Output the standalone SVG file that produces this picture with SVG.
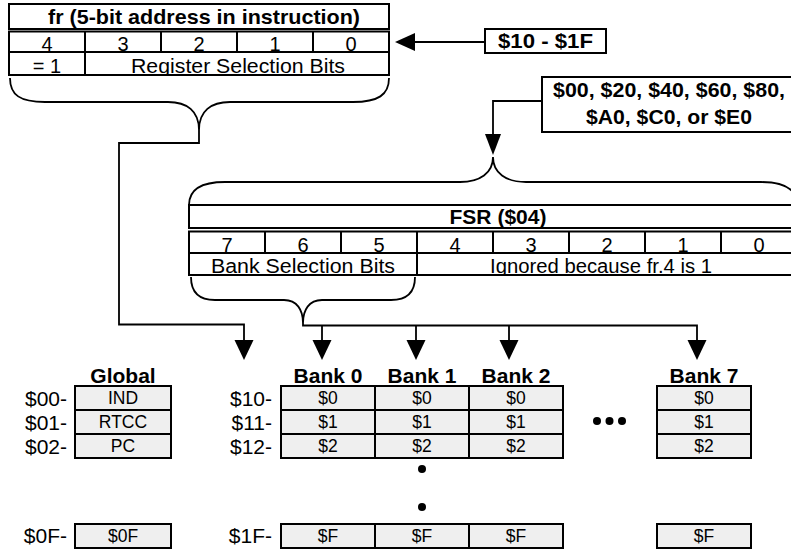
<svg xmlns="http://www.w3.org/2000/svg" width="791" height="549" viewBox="0 0 791 549">
<style>
text{font-family:"Liberation Sans",Arial,Helvetica,sans-serif;fill:#000}
.b{font-weight:bold;font-size:21px;text-anchor:middle}
.r{font-size:20px;text-anchor:middle}
.c{font-size:17.5px;text-anchor:middle}
.l{font-size:21px;text-anchor:end}
.tb{fill:#fff;stroke:#000;stroke-width:2}
.cell{fill:#efefef;stroke:#000;stroke-width:2}
.ln{fill:none;stroke:#000;stroke-width:2}
.br{fill:none;stroke:#000;stroke-width:1.8}
.cn{fill:none;stroke:#000;stroke-width:1.8}
.ah{fill:#000}
</style>
<defs>
<clipPath id="clipFr"><rect x="9" y="52" width="380" height="23"/></clipPath>
<clipPath id="clipFsr"><rect x="189" y="253" width="608" height="22"/></clipPath>
</defs>

<g id="fr-register">
<rect class="tb" x="9" y="4" width="380" height="25"/>
<text class="b" x="204" y="24" textLength="312" lengthAdjust="spacingAndGlyphs">fr (5-bit address in instruction)</text>
<rect class="tb" x="9" y="31.5" width="380" height="43.5"/>
<path class="ln" d="M9,52H389M85,31.5V75M161,31.5V52M237,31.5V52M313,31.5V52"/>
<text class="r" x="47" y="51">4</text>
<text class="r" x="123" y="51">3</text>
<text class="r" x="199" y="51">2</text>
<text class="r" x="275" y="51">1</text>
<text class="r" x="351" y="51">0</text>
<g clip-path="url(#clipFr)">
<text class="r" x="47" y="73">= 1</text>
<text class="r" x="238" y="73" textLength="214" lengthAdjust="spacingAndGlyphs">Register Selection Bits</text>
</g>
<path class="br" d="M10,78C10,95 20,102 45,102L168,102C187,102 199,111 199,130C199,111 211,102 230,102L353,102C378,102 389,95 389,78"/>
</g>

<g id="range-10-1F">
<rect class="tb" x="485" y="29" width="121" height="24"/>
<text class="b" x="545.5" y="48" textLength="95" lengthAdjust="spacingAndGlyphs">$10 - $1F</text>
</g>

<g id="bank-values">
<rect class="tb" x="542" y="77" width="255" height="55"/>
<text class="b" x="669" y="97" textLength="232" lengthAdjust="spacingAndGlyphs">$00, $20, $40, $60, $80,</text>
<text class="b" x="669" y="124" textLength="166" lengthAdjust="spacingAndGlyphs">$A0, $C0, or $E0</text>
</g>

<g id="fsr-register">
<path class="br" d="M189,205C189,190 200,182 225,182L460,182C480,182 493,173 493,157C493,173 506,182 526,182L761,182C786,182 797,190 797,205"/>
<rect class="tb" x="189" y="205" width="608" height="23"/>
<text class="b" x="498" y="224" textLength="97" lengthAdjust="spacingAndGlyphs">FSR ($04)</text>
<rect class="tb" x="189" y="231.5" width="608" height="43.5"/>
<path class="ln" d="M189,253H797M265,231.5V253M341,231.5V253M417,231.5V275M493,231.5V253M569,231.5V253M645,231.5V253M721,231.5V253"/>
<text class="r" x="227" y="252">7</text>
<text class="r" x="303" y="252">6</text>
<text class="r" x="379" y="252">5</text>
<text class="r" x="455" y="252">4</text>
<text class="r" x="531" y="252">3</text>
<text class="r" x="607" y="252">2</text>
<text class="r" x="683" y="252">1</text>
<text class="r" x="759" y="252">0</text>
<g clip-path="url(#clipFsr)">
<text class="r" x="303" y="273" textLength="184" lengthAdjust="spacingAndGlyphs">Bank Selection Bits</text>
<text class="r" x="601" y="273" textLength="222" lengthAdjust="spacingAndGlyphs">Ignored because fr.4 is 1</text>
</g>
<path class="br" d="M191,277C191,292 198,300 215,300L284,300C297,300 303,310 303,323C303,310 309,300 322,300L391,300C408,300 415,292 415,277"/>
</g>

<g id="connectors">
<path class="cn" d="M199,130V143H119V324.5H244V341"/>
<path class="cn" d="M303,323V325.5H697V341M322,325.5V341M416,325.5V341M509,325.5V341"/>
<path class="cn" d="M485,42H414"/>
<path class="cn" d="M542,101H493V135"/>
<polygon class="ah" points="415,33 415,51 395,42"/>
<polygon class="ah" points="485,134 501,134 493,155"/>
<polygon class="ah" points="234.5,340 253.5,340 244,360"/>
<polygon class="ah" points="312.5,340 331.5,340 322,360"/>
<polygon class="ah" points="406.5,340 425.5,340 416,360"/>
<polygon class="ah" points="499.5,340 518.5,340 509,360"/>
<polygon class="ah" points="687.5,340 706.5,340 697,360"/>
</g>

<g id="global">
<text class="b" x="123" y="383">Global</text>
<rect class="cell" x="75" y="386" width="96" height="24"/>
<rect class="cell" x="75" y="410" width="96" height="24"/>
<rect class="cell" x="75" y="434" width="96" height="24"/>
<rect class="cell" x="75" y="524" width="96" height="24"/>
<text class="c" x="123" y="404">IND</text>
<text class="c" x="123" y="428">RTCC</text>
<text class="c" x="123" y="452">PC</text>
<text class="c" x="123" y="542">$0F</text>
<text class="l" x="67" y="406">$00-</text>
<text class="l" x="67" y="430">$01-</text>
<text class="l" x="67" y="454">$02-</text>
<text class="l" x="67" y="543">$0F-</text>
</g>

<g id="bank-labels">
<text class="l" x="272" y="406">$10-</text>
<text class="l" x="272" y="430">$11-</text>
<text class="l" x="272" y="454">$12-</text>
<text class="l" x="272" y="543">$1F-</text>
</g>

<g id="bank0">
<text class="b" x="328" y="383">Bank 0</text>
<rect class="cell" x="281" y="386" width="94" height="24"/>
<rect class="cell" x="281" y="410" width="94" height="24"/>
<rect class="cell" x="281" y="434" width="94" height="24"/>
<rect class="cell" x="281" y="524" width="94" height="24"/>
<text class="c" x="328" y="404">$0</text>
<text class="c" x="328" y="428">$1</text>
<text class="c" x="328" y="452">$2</text>
<text class="c" x="328" y="542">$F</text>
</g>

<g id="bank1">
<text class="b" x="422" y="383">Bank 1</text>
<rect class="cell" x="375" y="386" width="94" height="24"/>
<rect class="cell" x="375" y="410" width="94" height="24"/>
<rect class="cell" x="375" y="434" width="94" height="24"/>
<rect class="cell" x="375" y="524" width="94" height="24"/>
<text class="c" x="422" y="404">$0</text>
<text class="c" x="422" y="428">$1</text>
<text class="c" x="422" y="452">$2</text>
<text class="c" x="422" y="542">$F</text>
<circle cx="422" cy="469" r="4"/>
<circle cx="422" cy="507" r="4"/>
</g>

<g id="bank2">
<text class="b" x="516" y="383">Bank 2</text>
<rect class="cell" x="469" y="386" width="94" height="24"/>
<rect class="cell" x="469" y="410" width="94" height="24"/>
<rect class="cell" x="469" y="434" width="94" height="24"/>
<rect class="cell" x="469" y="524" width="94" height="24"/>
<text class="c" x="516" y="404">$0</text>
<text class="c" x="516" y="428">$1</text>
<text class="c" x="516" y="452">$2</text>
<text class="c" x="516" y="542">$F</text>
</g>

<g id="ellipsis">
<circle cx="597" cy="421" r="4"/>
<circle cx="609.5" cy="421" r="4"/>
<circle cx="622" cy="421" r="4"/>
</g>

<g id="bank7">
<text class="b" x="704" y="383">Bank 7</text>
<rect class="cell" x="657" y="386" width="94" height="24"/>
<rect class="cell" x="657" y="410" width="94" height="24"/>
<rect class="cell" x="657" y="434" width="94" height="24"/>
<rect class="cell" x="657" y="524" width="94" height="24"/>
<text class="c" x="704" y="404">$0</text>
<text class="c" x="704" y="428">$1</text>
<text class="c" x="704" y="452">$2</text>
<text class="c" x="704" y="542">$F</text>
</g>
</svg>
